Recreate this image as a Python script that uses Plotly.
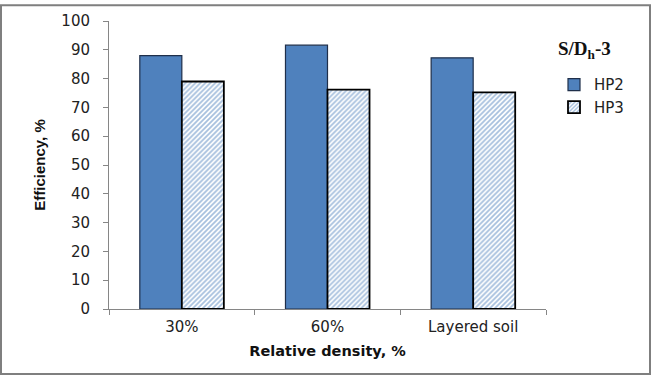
import plotly.graph_objects as go

categories = ["30%", "60%", "Layered soil"]
hp2 = [88.0, 91.6, 87.2]
hp3 = [79.0, 76.2, 75.2]
y_ticks = [0, 10, 20, 30, 40, 50, 60, 70, 80, 90, 100]

L, R, T, B = 109, 106, 17, 68
W, H = 652, 377
pw, ph = W - L - R, H - T - B

fig = go.Figure()
fig.add_trace(go.Bar(
    name="HP2", x=categories, y=hp2,
    marker=dict(color="#4f81bd", line=dict(color="#1f2f4a", width=1.2)),
))
fig.add_trace(go.Bar(
    name="HP3", x=categories, y=hp3,
    marker=dict(color="white",
                line=dict(color="black", width=1.8),
                pattern=dict(shape="/", fgcolor="#4f81bd", bgcolor="white",
                             size=3.5, solidity=0.5)),
))

axis_font = dict(family="DejaVu Sans", size=15, color="#222222")
fig.update_layout(
    width=W, height=H,
    margin=dict(l=L, r=R, t=T, b=B),
    paper_bgcolor="white", plot_bgcolor="white",
    barmode="group", bargap=0.423, bargroupgap=0,
    showlegend=True,
    legend=dict(x=(554 - L) / pw, y=(309 - 65) / ph, xanchor="left", yanchor="top",
                font=dict(family="DejaVu Sans", size=15, color="#222222"),
                bgcolor="rgba(0,0,0,0)", tracegroupgap=0, itemwidth=30),
    xaxis=dict(
        range=[-0.5, 2.5], tickson="boundaries", ticks="outside", ticklen=5,
        tickcolor="#868686", showline=True, linecolor="#868686", linewidth=1,
        showgrid=False, tickfont=axis_font, ticklabelstandoff=4,
        title=dict(text="<b>Relative density, %</b>", standoff=10,
                   font=dict(family="DejaVu Sans", size=14.5, color="#111111")),
    ),
    yaxis=dict(
        range=[0, 100], tickvals=y_ticks, ticks="outside", ticklen=5,
        tickcolor="#868686", showline=True, linecolor="#868686", linewidth=1,
        showgrid=False, zeroline=False, tickfont=axis_font, ticklabelstandoff=10,
        title=dict(text="<b>Efficiency, %</b>", standoff=12,
                   font=dict(family="Liberation Sans Narrow, Liberation Sans", size=15, color="#111111")),
    ),
    annotations=[dict(
        text="<b>S/D<sub>h</sub>-3</b>", xref="paper", yref="paper",
        x=(556 - L) / pw, y=(309 - 46) / ph, xanchor="left", yanchor="middle",
        showarrow=False, font=dict(family="Liberation Serif", size=19, color="#111111"),
    )],
    shapes=[dict(
        type="rect", xref="paper", yref="paper",
        x0=(1 - L) / pw, x1=(650 - L) / pw, y0=(309 - 375) / ph, y1=(309 - 1) / ph,
        line=dict(color="#7f7f7f", width=2), fillcolor="rgba(0,0,0,0)",
    )],
)

fig.write_html("out.html", config={"displayModeBar": False},
               post_script="document.body.style.margin='0';document.body.style.padding='0';")
